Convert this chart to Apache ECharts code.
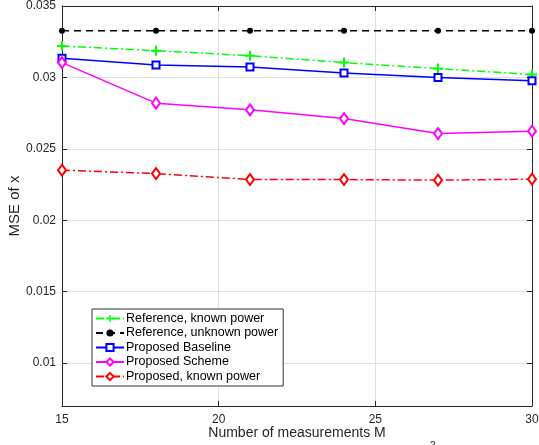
<!DOCTYPE html>
<html><head><meta charset="utf-8">
<script src="https://cdn.jsdelivr.net/npm/echarts@6/dist/echarts.min.js"></script>
<style>html,body{margin:0;padding:0;background:#fff}#c{width:539px;height:445px}</style>
</head><body><div id="c"></div>
<script>
var M = [15, 18, 21, 24, 27, 30];
var refKnown   = [0.0322, 0.03187, 0.03152, 0.03104, 0.03062, 0.0302];
var refUnknown = [0.03327, 0.03327, 0.03327, 0.03327, 0.03327, 0.03326];
var baseline   = [0.03134, 0.03087, 0.03073, 0.03031, 0.02999, 0.02976];
var scheme     = [0.03104, 0.0282, 0.02773, 0.02712, 0.02607, 0.02624];
var propKnown  = [0.02351, 0.02327, 0.02285, 0.02285, 0.02281, 0.02288];
var yTicks = [0.01, 0.015, 0.02, 0.025, 0.03, 0.035];
var xTicks = [15, 20, 25, 30];
var names = ['Reference, known power','Reference, unknown power','Proposed Baseline','Proposed Scheme','Proposed, known power'];

function pts(v){ return M.map(function(m,i){ return [m, v[i]]; }); }
var axisCol = '#262626';
var font = 'Liberation Sans, Arial, sans-serif';
var plus = 'path://M4,0h2v4h4v2h-4v4h-2v-4h-4v-2h4z';
var dashDot = [8, 3, 2, 3];

var chart = echarts.init(document.getElementById('c'));
chart.setOption({
  animation: false,
  backgroundColor: '#fff',
  grid: {left: 62, right: 7, top: 6, bottom: 39, show: false, containLabel: false, outerBoundsMode: 'none'},
  legend: {
    orient: 'vertical', left: 92, top: 309,
    data: names,
    backgroundColor: '#fff', borderColor: '#333', borderWidth: 1,
    padding: [3, 5, 3, 3], itemGap: 1.5, itemWidth: 28, itemHeight: 9,
    textStyle: {fontFamily: font, fontSize: 12.5, color: '#000', padding: [0,0,0,-3]}
  },
  xAxis: [{
    type: 'value', min: 15, max: 30, interval: 5, position: 'bottom',
    name: 'Number of measurements M', nameLocation: 'middle', nameGap: 20, nameMoveOverlap: false,
    nameTextStyle: {fontFamily: font, fontSize: 14, color: axisCol},
    axisLine: {lineStyle: {color: axisCol, width: 1}},
    axisTick: {inside: true, length: 5, lineStyle: {color: axisCol}},
    axisLabel: {fontFamily: font, fontSize: 12, color: axisCol, margin: 8},
    splitLine: {show: true, lineStyle: {color: '#dfdfdf', width: 1}}
  },{
    type: 'value', min: 15, max: 30, interval: 5, position: 'top',
    axisLine: {show: true, lineStyle: {color: axisCol, width: 1}},
    axisTick: {show: true, inside: true, length: 5, lineStyle: {color: axisCol}},
    axisLabel: {show: false}, splitLine: {show: false}
  }],
  yAxis: [{
    type: 'value', min: 0.007, max: 0.035, position: 'left',
    name: 'MSE of x', nameLocation: 'middle', nameGap: 40, nameMoveOverlap: false,
    nameTextStyle: {fontFamily: font, fontSize: 15, color: axisCol},
    axisLine: {show: true, lineStyle: {color: axisCol, width: 1}},
    axisTick: {show: true, inside: true, length: 5, lineStyle: {color: axisCol}, customValues: yTicks},
    axisLabel: {fontFamily: font, fontSize: 12, color: axisCol, margin: 6, customValues: yTicks,
      formatter: function(v){ return String(+v.toFixed(3)); }},
    splitLine: {show: true, lineStyle: {color: '#dfdfdf', width: 1}}
  },{
    type: 'value', min: 0.007, max: 0.035, position: 'right',
    axisLine: {show: true, lineStyle: {color: axisCol, width: 1}},
    axisTick: {show: true, inside: true, length: 5, lineStyle: {color: axisCol}, customValues: yTicks},
    axisLabel: {show: false, customValues: yTicks}, splitLine: {show: false}
  }],
  series: [
    {name: names[0], type: 'line', data: pts(refKnown), symbol: plus, symbolSize: 10,
     lineStyle: {color: '#00ff00', width: 1.5, type: dashDot}, itemStyle: {color: '#00ff00'}, z: 3},
    {name: names[1], type: 'line', data: pts(refUnknown), symbol: 'circle', symbolSize: 6,
     lineStyle: {color: '#000', width: 1.5, type: [7, 5]}, itemStyle: {color: '#000'}, z: 3},
    {name: names[2], type: 'line', data: pts(baseline), symbol: 'emptyRect', symbolSize: 7,
     lineStyle: {color: '#0000ff', width: 1.5}, itemStyle: {color: '#0000ff', borderWidth: 1.5}, z: 3},
    {name: names[3], type: 'line', data: pts(scheme), symbol: 'emptyDiamond', symbolSize: [8, 11],
     lineStyle: {color: '#ff00ff', width: 1.5}, itemStyle: {color: '#ff00ff', borderWidth: 1.5}, z: 3},
    {name: names[4], type: 'line', data: pts(propKnown), symbol: 'emptyDiamond', symbolSize: [8, 11],
     lineStyle: {color: '#ff0000', width: 1.5, type: dashDot}, itemStyle: {color: '#ff0000', borderWidth: 1.5}, z: 3}
  ],
  graphic: [{type: 'text', left: 430, top: 441, style: {text: '2', fontSize: 10, fontFamily: font, fill: axisCol}}]
});
</script></body></html>
